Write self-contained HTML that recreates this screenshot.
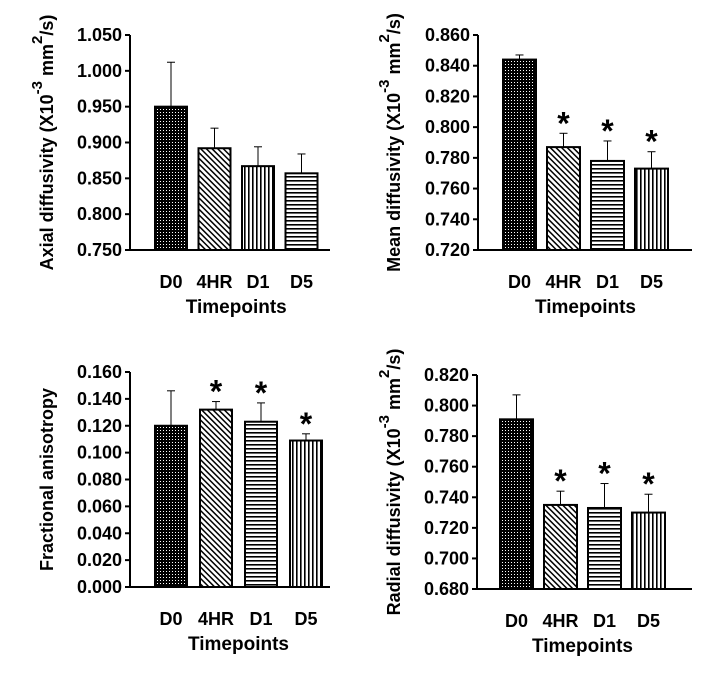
<!DOCTYPE html>
<html><head><meta charset="utf-8"><style>
body{margin:0;background:#fff}
svg text{font-family:"Liberation Sans",Arial,sans-serif;font-weight:bold;fill:#000}
</style></head><body>
<svg id="c" width="716" height="678" viewBox="0 0 716 678" xmlns="http://www.w3.org/2000/svg">
<defs>
<pattern id="pDots" width="3" height="3" patternUnits="userSpaceOnUse"><rect width="3" height="3" fill="#000"/><rect x="1" y="1" width="1" height="1" fill="#fff"/></pattern>
<pattern id="pDiag" width="4" height="4" patternUnits="userSpaceOnUse" patternTransform="rotate(-45)"><rect width="4" height="4" fill="#fff"/><rect x="0" width="1.5" height="4" fill="#000"/></pattern>
<pattern id="pVert" width="4" height="4" patternUnits="userSpaceOnUse"><rect width="4" height="4" fill="#fff"/><rect x="0" width="1.6" height="4" fill="#000"/></pattern>
<pattern id="pHorz" width="4" height="4" patternUnits="userSpaceOnUse"><rect width="4" height="4" fill="#fff"/><rect y="0" width="4" height="1.6" fill="#000"/></pattern>
</defs>
</svg>
<script>
const categories = ["D0","4HR","D1","D5"];
const axialValues = [0.950,0.892,0.867,0.857];
const axialErrors = [0.062,0.028,0.027,0.027];
const meanValues = [0.844,0.787,0.778,0.773];
const meanErrors = [0.003,0.009,0.013,0.011];
const faValues = [0.120,0.132,0.123,0.109];
const faErrors = [0.026,0.006,0.014,0.005];
const radialValues = [0.791,0.735,0.733,0.730];
const radialErrors = [0.016,0.009,0.016,0.012];
const axialTicks = ["0.750","0.800","0.850","0.900","0.950","1.000","1.050"];
const meanTicks = ["0.720","0.740","0.760","0.780","0.800","0.820","0.840","0.860"];
const faTicks = ["0.000","0.020","0.040","0.060","0.080","0.100","0.120","0.140","0.160"];
const radialTicks = ["0.680","0.700","0.720","0.740","0.760","0.780","0.800","0.820"];
const starFlags = [false,true,true,true];

const NS="http://www.w3.org/2000/svg";
const svg=document.getElementById('c');
function mk(tag,attrs,parent){const e=document.createElementNS(NS,tag);for(const k in attrs)e.setAttribute(k,attrs[k]);(parent||svg).appendChild(e);return e;}

function panel(o){
  const g=mk('g',{});
  
  
  const ticks=o.ticks.map(Number);
  const vmin=ticks[0],vmax=ticks[ticks.length-1];
  const ys=v=>o.y1+(v-vmin)/(vmax-vmin)*(o.y0-o.y1);
  const ya=mk('line',{x1:o.ax,y1:o.y0,x2:o.ax,y2:o.y1+1,stroke:'#000','stroke-width':2},g);
  
  
  const xa=mk('line',{x1:o.ax-5,y1:o.y1,x2:o.axEnd,y2:o.y1,stroke:'#000','stroke-width':2},g);
  
  
  o.ticks.forEach((t,i)=>{
    const y=ys(ticks[i]);
    mk('line',{x1:o.ax-5,y1:y,x2:o.ax,y2:y,stroke:'#000','stroke-width':2},g);
    const tx=mk('text',{x:o.ax-8,y:y+6,'text-anchor':'end','font-size':18},g);
    
    
    tx.textContent=t;
  });
  categories.forEach((c,i)=>{
    const x=o.bx+i*o.step, v=o.vals[i], e=o.errs[i];
    const top=ys(v), et=ys(v+e), cx=x+o.bw/2;
    const el=mk('line',{x1:cx,y1:top,x2:cx,y2:et,stroke:'#000','stroke-width':1},g);
    
    
    mk('line',{x1:cx-4,y1:et,x2:cx+4,y2:et,stroke:'#000','stroke-width':1},g);
    const r=mk('rect',{x:x,y:top,width:o.bw,height:o.y1-top,fill:'url(#'+o.pats[i]+')',stroke:'#000','stroke-width':2},g);
    
    
    if(o.stars&&starFlags[i]){
      const s=mk('text',{x:cx,y:et+1,'text-anchor':'middle','font-size':32},g);
      
      
      s.textContent='*';
    }
    const l=mk('text',{x:cx,y:o.y1+38,'text-anchor':'middle','font-size':18},g);
    
    
    l.textContent=c;
  });
  const xt=mk('text',{x:o.bx+(3*o.step+o.bw)/2,y:o.y1+63,'text-anchor':'middle','font-size':19},g);
  
  
  xt.textContent='Timepoints';
  const yt=mk('text',{transform:'translate('+o.tx+','+((o.y0+o.y1)/2)+') rotate(-90)','text-anchor':'middle','font-size':18},g);
  
  
  if(o.unit){
    const a=mk('tspan',{},yt);a.textContent=o.title+' (X10';
    const b=mk('tspan',{dy:-11,'font-size':15},yt);b.textContent='-3';
    const c2=mk('tspan',{dy:11},yt);c2.textContent='  mm';
    const d=mk('tspan',{dy:-11,'font-size':15},yt);d.textContent='2';
    const f=mk('tspan',{dy:11},yt);f.textContent='/s)';
  } else yt.textContent=o.title;
}

panel({name:'axial-panel',ticks:axialTicks,vals:axialValues,errs:axialErrors,ax:130,axEnd:330,y0:35,y1:250,bx:155,step:43.5,bw:32,pats:['pDots','pDiag','pVert','pHorz'],stars:false,title:'Axial diffusivity',unit:true,tx:53});
panel({name:'mean-panel',ticks:meanTicks,vals:meanValues,errs:meanErrors,ax:478,axEnd:692,y0:35,y1:250,bx:503,step:44,bw:33,pats:['pDots','pDiag','pHorz','pVert'],stars:true,title:'Mean diffusivity',unit:true,tx:400});
panel({name:'fa-panel',ticks:faTicks,vals:faValues,errs:faErrors,ax:130,axEnd:330,y0:372,y1:587,bx:155,step:45,bw:32,pats:['pDots','pDiag','pHorz','pVert'],stars:true,title:'Fractional anisotropy',unit:false,tx:53});
panel({name:'radial-panel',ticks:radialTicks,vals:radialValues,errs:radialErrors,ax:477,axEnd:692,y0:375,y1:589,bx:500,step:44,bw:33,pats:['pDots','pDiag','pHorz','pVert'],stars:true,title:'Radial diffusivity',unit:true,tx:400});
</script>
</body></html>
